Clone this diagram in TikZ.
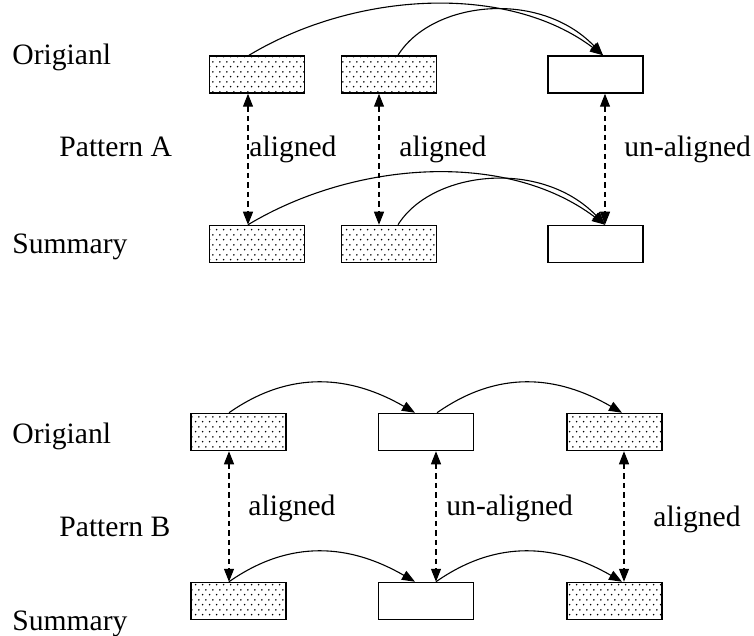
\documentclass[tikz,border=0pt]{standalone}
\usepackage{fontspec}
\setmainfont{Liberation Serif}
\usetikzlibrary{arrows.meta,patterns}

\pgfdeclarepatternformonly{stipple}{\pgfpointorigin}{\pgfqpoint{3.6pt}{4.8pt}}{\pgfqpoint{3.6pt}{4.8pt}}{%
  \pgfpathcircle{\pgfqpoint{0.9pt}{1.2pt}}{0.45pt}%
  \pgfpathcircle{\pgfqpoint{2.7pt}{3.6pt}}{0.45pt}%
  \pgfusepath{fill}}

\begin{document}
\begin{tikzpicture}[x=0.5pt,y=0.5pt,
  box/.style={draw,line width=0.75pt,minimum width=47.5pt,minimum height=18.5pt,inner sep=0pt},
  shaded/.style={box,pattern=stipple},
  lbl/.style={anchor=base west,inner sep=0pt,font=\fontsize{14.8}{18}\selectfont},
  link/.style={line width=0.55pt,-{Triangle[length=6.5pt,width=5pt]}},
  match/.style={line width=0.55pt,dash pattern=on 2.75pt off 2pt,
    {Triangle[length=6.5pt,width=5pt]}-{Triangle[length=6.5pt,width=5pt]}}]
\useasboundingbox (0,0) rectangle (754,-636);

\node[shaded] (oa1) at (257,-74.5) {};
\node[shaded] (oa2) at (389,-74.5) {};
\node[box] (oa3) at (595.5,-74.5) {};
\node[shaded] (sa1) at (257,-244) {};
\node[shaded] (sa2) at (389,-244) {};
\node[box] (sa3) at (595.5,-244) {};

\node[lbl] (origa) at (12,-65) {Origianl};
\node[lbl] (pata) at (59,-157) {Pattern A};
\node[lbl] (suma) at (12,-253) {Summary};
\node[lbl] (ala1) at (249,-157) {aligned};
\node[lbl] (ala2) at (399,-157) {aligned};
\node[lbl] (ala3) at (624,-157) {un-aligned};

\draw[match] ([xshift=-4.5pt]oa1.south) -- ([xshift=-4.5pt]sa1.north);
\draw[match] ([xshift=-5pt]oa2.south) -- ([xshift=-5pt]sa2.north);
\draw[match] ([xshift=4.75pt]oa3.south) -- ([xshift=4.75pt]sa3.north);

\draw[link] ([xshift=-4pt]oa1.north) .. controls +(31:62pt) and +(143:60pt) .. ([xshift=3.75pt]oa3.north);
\draw[link] ([xshift=4.5pt]oa2.north) .. controls +(58:32pt) and +(134:46pt) .. ([xshift=3.75pt]oa3.north);
\draw[link] ([xshift=-4.5pt]sa1.north) .. controls +(31:62pt) and +(143:62pt) .. ([xshift=4.75pt]sa3.north);
\draw[link] ([xshift=4.5pt]sa2.north) .. controls +(58:32pt) and +(134:46pt) .. ([xshift=4.75pt]sa3.north);

\node[shaded] (ob1) at (238.5,-432) {};
\node[box] (ob2) at (426,-432) {};
\node[shaded] (ob3) at (614.5,-432) {};
\node[shaded] (sb1) at (238.5,-601) {};
\node[box] (sb2) at (426,-601) {};
\node[shaded] (sb3) at (614.5,-601) {};

\node[lbl] (origb) at (12,-443) {Origianl};
\node[lbl] (patb) at (59,-536) {Pattern B};
\node[lbl] (sumb) at (12,-630) {Summary};
\node[lbl] (alb1) at (248,-515) {aligned};
\node[lbl] (alb2) at (446,-515) {un-aligned};
\node[lbl] (alb3) at (653,-526) {aligned};

\draw[match] ([xshift=-4.75pt]ob1.south) -- ([xshift=-4.75pt]sb1.north);
\draw[match] ([xshift=5pt]ob2.south) -- ([xshift=5pt]sb2.north);
\draw[match] ([xshift=4.75pt]ob3.south) -- ([xshift=4.75pt]sb3.north);

\draw[link] ([xshift=-4.75pt]ob1.north) .. controls +(35:37.5pt) and +(150:37.5pt) .. ([xshift=-5.5pt]ob2.north);
\draw[link] ([xshift=5.5pt]ob2.north) .. controls +(35:37.5pt) and +(150:37.5pt) .. ([xshift=3.75pt]ob3.north);
\draw[link] ([xshift=-4.75pt]sb1.north) .. controls +(35:37.5pt) and +(150:37.5pt) .. ([xshift=-5.5pt]sb2.north);
\draw[link] ([xshift=5pt]sb2.north) .. controls +(35:37.5pt) and +(150:37.5pt) .. ([xshift=3.75pt]sb3.north);
\end{tikzpicture}
\end{document}
